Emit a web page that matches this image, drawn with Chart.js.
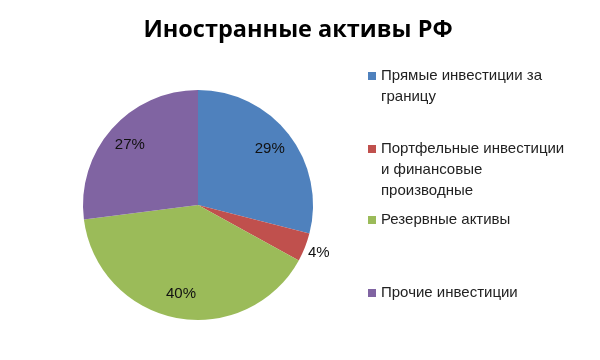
<!DOCTYPE html>
<html>
<head>
<meta charset="utf-8">
<script src="https://cdn.jsdelivr.net/npm/chart.js@4.4.0/dist/chart.umd.min.js"></script>
<style>
  body { margin: 0; background: #fff; }
  #wrap { width: 600px; height: 360px; }
</style>
</head>
<body>
<div id="wrap"><canvas id="myChart"></canvas></div>
<script>
// Data
const labels = [
  'Прямые инвестиции за границу',
  'Портфельные инвестиции и финансовые производные',
  'Резервные активы',
  'Прочие инвестиции',
];
const values = [29, 4, 40, 27];
const colors = ['#4F81BD', '#C0504D', '#9BBB59', '#8064A2'];
const title = 'Иностранные активы РФ';

const FONT = '"Liberation Sans", Arial, sans-serif';

// Title, centred over the whole canvas
const topTitle = {
  id: 'topTitle',
  afterDraw(chart) {
    const ctx = chart.ctx;
    ctx.save();
    ctx.font = 'bold 23.5px "Open Sans", sans-serif';
    ctx.fillStyle = '#000';
    ctx.textAlign = 'center';
    ctx.textBaseline = 'middle';
    ctx.fillText(title, 298, 30);
    ctx.restore();
  },
};

// Percent labels on the slices
const sliceLabels = {
  id: 'sliceLabels',
  afterDatasetsDraw(chart) {
    const ctx = chart.ctx;
    const meta = chart.getDatasetMeta(0);
    const total = values.reduce((a, b) => a + b, 0);
    ctx.save();
    ctx.font = '15px ' + FONT;
    ctx.fillStyle = '#111';
    ctx.textAlign = 'center';
    ctx.textBaseline = 'middle';
    meta.data.forEach((arc, i) => {
      const mid = (arc.startAngle + arc.endAngle) / 2;
      const small = arc.endAngle - arc.startAngle < 0.4;
      const r = arc.outerRadius * (small ? 1.13 : 0.79);
      const x = arc.x + Math.cos(mid) * r;
      const y = arc.y + Math.sin(mid) * r;
      ctx.fillText(Math.round(values[i] / total * 100) + '%', x, y);
    });
    ctx.restore();
  },
};

// Legend on the right, wrapped lines
const sideLegend = {
  id: 'sideLegend',
  afterDraw(chart) {
    const ctx = chart.ctx;
    const tops = [76, 149, 220, 293];
    const maxW = 190;
    ctx.save();
    ctx.font = '15px ' + FONT;
    ctx.textBaseline = 'middle';
    labels.forEach((text, i) => {
      const words = text.split(' ');
      const lines = [];
      let cur = '';
      words.forEach(w => {
        const test = cur ? cur + ' ' + w : w;
        if (ctx.measureText(test).width > maxW && cur) {
          lines.push(cur);
          cur = w;
        } else {
          cur = test;
        }
      });
      lines.push(cur);
      ctx.fillStyle = colors[i];
      ctx.fillRect(368, tops[i] - 4, 8, 8);
      ctx.fillStyle = '#222';
      lines.forEach((ln, j) => ctx.fillText(ln, 381, tops[i] + j * 20.7));
    });
    ctx.restore();
  },
};

const config = {
  type: 'pie',
  data: {
    labels: labels,
    datasets: [
      {
        data: values,
        backgroundColor: colors,
        borderWidth: 0,
      },
    ],
  },
  options: {
    responsive: true,
    maintainAspectRatio: false,
    animation: false,
    layout: {
      padding: { left: 83, right: 287, top: 90, bottom: 40 },
    },
    plugins: {
      legend: { display: false },
      tooltip: { enabled: false },
      title: { display: false },
    },
  },
  plugins: [topTitle, sliceLabels, sideLegend],
};

const myChart = new Chart(document.getElementById('myChart'), config);
</script>
</body>
</html>
